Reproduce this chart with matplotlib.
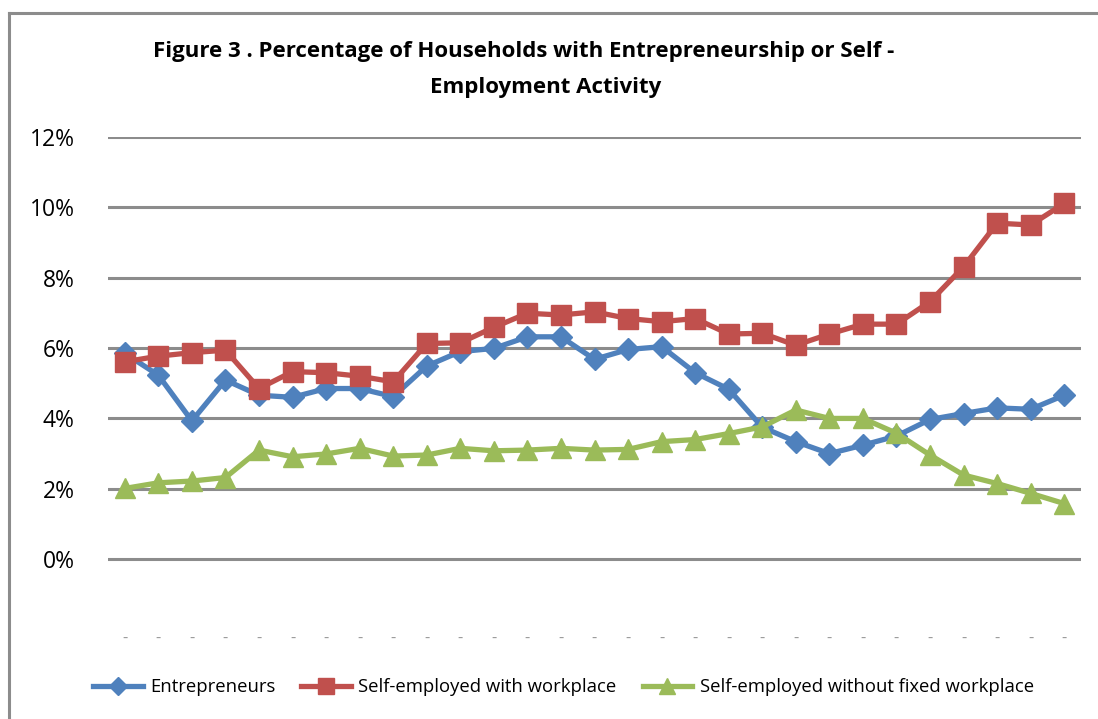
import numpy as np
import matplotlib
matplotlib.use('Agg')
import matplotlib.pyplot as plt
import matplotlib.transforms as mtransforms
from matplotlib.lines import Line2D

## values, in percent
entrepreneurs = [5.85, 5.23, 3.93, 5.09, 4.66, 4.60, 4.85, 4.85, 4.62, 5.49,
                 5.90, 5.99, 6.32, 6.32, 5.68, 5.96, 6.04, 5.30, 4.83, 3.75,
                 3.34, 3.00, 3.24, 3.50, 3.97, 4.14, 4.30, 4.26, 4.66]
with_workplace = [5.61, 5.77, 5.87, 5.94, 4.85, 5.33, 5.30, 5.20, 5.04, 6.13,
                  6.15, 6.59, 6.99, 6.94, 7.03, 6.84, 6.75, 6.84, 6.40, 6.42,
                  6.08, 6.40, 6.68, 6.68, 7.32, 8.31, 9.55, 9.50, 10.11]
without_fixed = [2.01, 2.17, 2.22, 2.32, 3.10, 2.91, 2.99, 3.15, 2.93, 2.96,
                 3.15, 3.08, 3.10, 3.15, 3.10, 3.12, 3.34, 3.40, 3.57, 3.76,
                 4.24, 4.00, 4.00, 3.58, 2.96, 2.39, 2.15, 1.87, 1.58]
x_labels = ['-'] * len(entrepreneurs)
y_ticks = [0, 2, 4, 6, 8, 10, 12]
series_names = ['Entrepreneurs', 'Self-employed with workplace',
                'Self-employed without fixed workplace']

plt.rcParams['font.family'] = ['Open Sans', 'DejaVu Sans']

fig = plt.figure(figsize=(10.98, 7.19), dpi=100)
## grey frame on the left and top, like the original chart box
fl = 8.5 / 1098
ft = 1 - 13 / 719
fig.lines.append(Line2D([fl, fl], [0, ft], transform=fig.transFigure,
                        color='#8c8c8c', linewidth=2.2))
fig.lines.append(Line2D([fl, 1], [ft, ft], transform=fig.transFigure,
                        color='#8c8c8c', linewidth=2.2))

ax = fig.add_axes([108 / 1098, 1 - 629.5 / 719, 973 / 1098, (629.5 - 137) / 719])
x = np.arange(len(entrepreneurs))

for v in y_ticks:
    ax.axhline(v, color='#8c8c8c', linewidth=2.2, zorder=1)

ax.plot(x, entrepreneurs, color='#4F81BD', linewidth=3.8, marker='D',
        markersize=11, label=series_names[0], zorder=3)
ax.plot(x, with_workplace, color='#C0504D', linewidth=3.8, marker='s',
        markersize=15, label=series_names[1], zorder=4)
ax.plot(x, without_fixed, color='#9BBB59', linewidth=3.8, marker='^',
        markersize=15, label=series_names[2], zorder=5)

ax.set_xlim(-0.5, len(entrepreneurs) - 0.5)
ax.set_ylim(-2, 12)
ax.set_yticks(y_ticks)
ax.set_yticklabels([str(v) + '%' for v in y_ticks], fontsize=16.5)
ax.set_xticks(x)
ax.set_xticklabels(x_labels, fontsize=12, color='#999999')
offset = mtransforms.ScaledTranslation(13 / 100, 0, fig.dpi_scale_trans)
for lab in ax.get_xticklabels():
    lab.set_transform(lab.get_transform() + offset)
ax.tick_params(axis='both', length=0)
ax.tick_params(axis='y', pad=24)
ax.tick_params(axis='x', pad=1)
for s in ax.spines.values():
    s.set_visible(False)

fig.text(0.477, 1 - 52 / 719, 'Figure 3 . Percentage of Households with Entrepreneurship or Self -',
         ha='center', va='center', fontsize=16, fontweight='bold')
fig.text(0.497, 1 - 87 / 719, 'Employment Activity',
         ha='center', va='center', fontsize=16, fontweight='bold')

fig.legend(loc='center', bbox_to_anchor=(0.513, 1 - 687 / 719), ncol=3,
           frameon=False, fontsize=13.3, handlelength=2.7, columnspacing=1.4,
           handletextpad=0.4, markerscale=0.8)

plt.savefig('out.png', dpi=100)
